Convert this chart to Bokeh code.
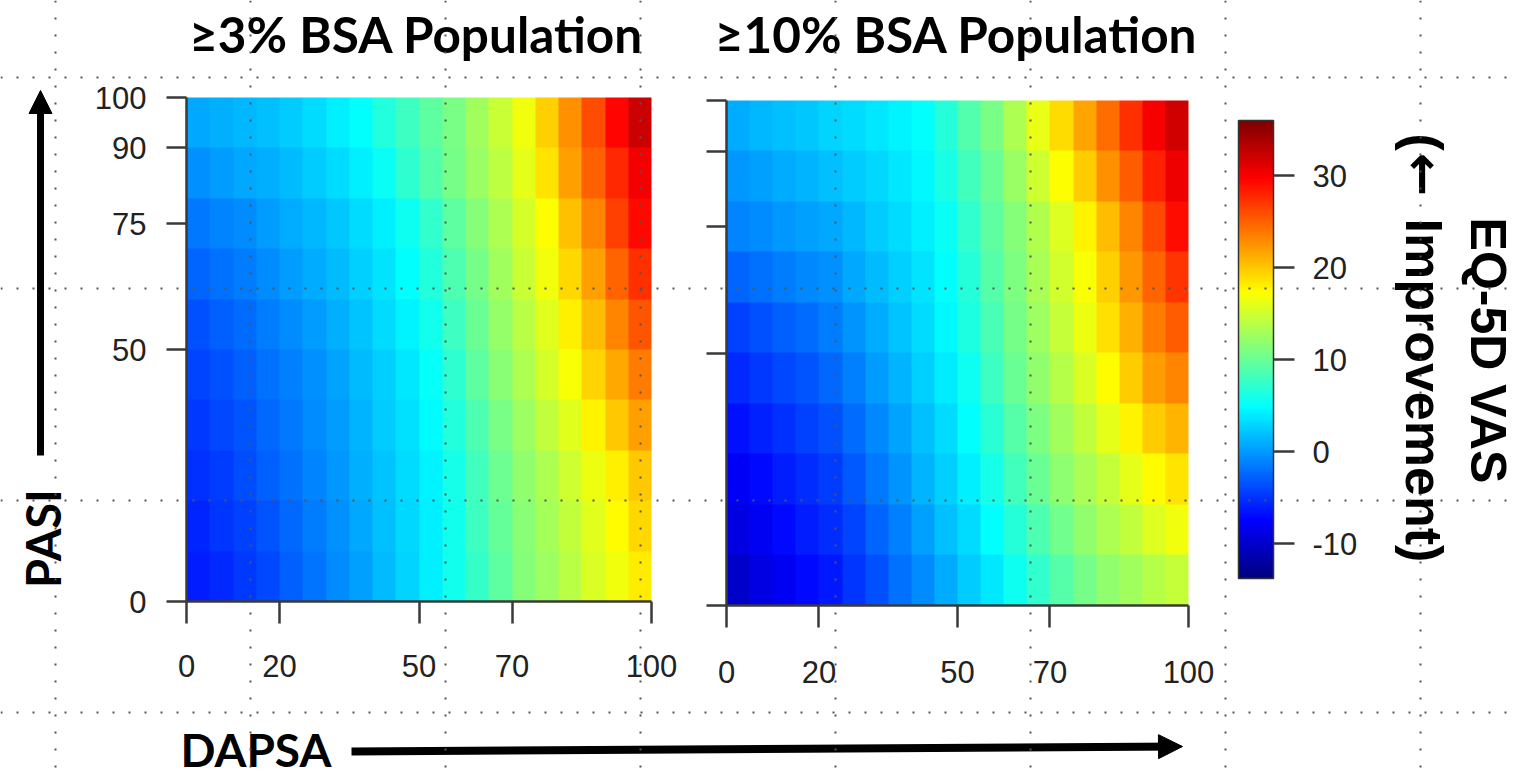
import numpy as np
from bokeh.plotting import figure
from bokeh.models import (Range1d, LinearAxis, FixedTicker, LinearColorMapper, ColorBar,
                          Span, Arrow, NormalHead, Label)
from bokeh.embed import file_html
from bokeh.resources import INLINE

# ---------------- data ----------------
dapsa_centers = [2.5, 7.5, 12.5, 17.5, 22.5, 27.5, 32.5, 37.5, 42.5, 47.5,
                 52.5, 57.5, 62.5, 67.5, 72.5, 77.5, 82.5, 87.5, 92.5, 97.5]
pasi_centers = [5, 15, 25, 35, 45, 55, 65, 75, 85, 95]
# EQ-5D VAS improvement; rows = PASI (bottom -> top), columns = DAPSA
vas_3pct = [
    [-6.2, -5.5, -4.8, -3.9, -2.9, -1.8, -0.7, 0.4, 1.7, 2.9, 4.1, 5.7, 7.5, 9.5, 11.3, 12.6, 13.9, 15.4, 16.7, 18.2],
    [-5.7, -5.0, -4.3, -3.4, -2.4, -1.5, -0.4, 0.7, 1.9, 3.0, 4.2, 5.8, 7.8, 9.8, 11.6, 13.0, 14.4, 15.9, 17.4, 19.1],
    [-5.2, -4.5, -3.8, -2.9, -2.0, -1.1, -0.1, 1.0, 2.1, 3.2, 4.3, 6.0, 8.1, 10.2, 11.9, 13.4, 14.9, 16.4, 18.1, 20.0],
    [-4.7, -4.0, -3.3, -2.5, -1.6, -0.7, 0.2, 1.3, 2.4, 3.5, 4.7, 6.6, 8.7, 10.8, 12.6, 14.3, 15.9, 17.8, 19.9, 21.8],
    [-4.2, -3.5, -2.8, -2.0, -1.2, -0.4, 0.5, 1.6, 2.7, 3.8, 5.1, 7.2, 9.4, 11.5, 13.3, 15.2, 17.0, 19.3, 21.6, 23.7],
    [-3.5, -2.9, -2.2, -1.4, -0.6, 0.1, 1.0, 2.1, 3.2, 4.3, 5.7, 7.9, 10.0, 12.1, 14.0, 15.9, 18.1, 20.6, 23.3, 25.5],
    [-2.6, -2.0, -1.4, -0.7, 0.1, 0.8, 1.7, 2.7, 3.7, 4.9, 6.6, 8.6, 10.7, 12.7, 14.7, 16.6, 19.2, 21.9, 24.9, 27.4],
    [-1.7, -1.1, -0.6, 0.1, 0.8, 1.5, 2.3, 3.3, 4.2, 5.5, 7.4, 9.4, 11.3, 13.3, 15.3, 17.3, 20.3, 23.2, 26.5, 29.2],
    [-0.4, 0.1, 0.6, 1.1, 1.6, 2.4, 3.3, 4.1, 5.4, 7.1, 8.9, 10.6, 12.4, 14.2, 16.0, 18.5, 21.8, 25.0, 27.8, 30.3],
    [0.7, 1.1, 1.5, 1.8, 2.5, 3.3, 4.1, 5.0, 6.5, 7.9, 9.4, 10.8, 12.7, 14.7, 16.7, 19.5, 22.6, 25.9, 29.4, 32.2],
]
vas_10pct = [
    [-10.0, -8.9, -8.0, -7.0, -6.3, -5.0, -3.5, -2.1, -0.6, 0.9, 2.4, 3.9, 5.5, 7.3, 9.0, 10.6, 12.0, 12.8, 13.7, 14.5],
    [-8.9, -8.0, -7.1, -6.2, -5.4, -4.1, -2.6, -1.2, 0.3, 1.8, 3.3, 5.0, 6.8, 8.6, 10.4, 11.9, 13.3, 14.4, 15.6, 16.6],
    [-7.8, -7.0, -6.2, -5.4, -4.6, -3.2, -1.7, -0.3, 1.2, 2.7, 4.2, 6.0, 8.0, 10.0, 11.8, 13.2, 14.6, 16.0, 17.4, 18.6],
    [-6.7, -5.9, -5.1, -4.4, -3.6, -2.2, -0.8, 0.5, 1.9, 3.3, 4.9, 6.9, 9.0, 11.0, 12.8, 14.4, 16.0, 17.9, 19.7, 20.9],
    [-5.6, -4.8, -4.0, -3.3, -2.5, -1.3, 0.1, 1.3, 2.6, 4.0, 5.6, 7.8, 10.0, 11.9, 13.8, 15.5, 17.5, 19.8, 22.0, 23.2],
    [-4.3, -3.6, -2.8, -2.2, -1.5, -0.3, 0.9, 2.0, 3.2, 4.5, 6.3, 8.5, 10.7, 12.6, 14.6, 16.4, 18.7, 21.2, 23.7, 25.3],
    [-2.6, -2.1, -1.5, -0.9, -0.4, 0.6, 1.6, 2.7, 3.7, 4.9, 6.8, 9.0, 11.0, 13.1, 15.1, 17.1, 19.6, 22.3, 24.9, 27.2],
    [-1.0, -0.6, -0.1, 0.3, 0.7, 1.5, 2.4, 3.3, 4.2, 5.3, 7.4, 9.4, 11.4, 13.5, 15.6, 17.8, 20.6, 23.3, 26.1, 29.0],
    [-0.1, 0.4, 0.9, 1.3, 1.8, 2.4, 3.1, 3.9, 4.6, 6.1, 8.1, 10.1, 12.4, 14.9, 17.3, 19.8, 22.6, 25.3, 28.1, 30.5],
    [0.9, 1.4, 1.9, 2.3, 2.8, 3.3, 3.8, 4.4, 4.9, 6.8, 8.8, 10.8, 13.4, 16.2, 19.0, 21.7, 24.5, 27.3, 30.0, 32.0],
]
dapsa_ticks = [0, 20, 50, 70, 100]
pasi_ticks = [0, 50, 75, 90, 100]
cbar_ticks = [-10, 0, 10, 20, 30]
vas_low, vas_high = -13.8, 36.0
titles = ["\u22653% BSA Population", "\u226510% BSA Population"]
x_label = "DAPSA"
y_label = "PASI"
cbar_label_1 = "EQ-5D VAS"
cbar_label_2 = ["(", "\u2190", "Improvement)"]

# ---------------- palette (R jet.colors ramp) ----------------
stops = ["#00007F", "#0000FF", "#007FFF", "#00FFFF", "#7FFF7F",
         "#FFFF00", "#FF7F00", "#FF0000", "#7F0000"]
rgb = np.array([[int(s[i:i + 2], 16) for i in (1, 3, 5)] for s in stops], float)
pos = np.linspace(0, 1, len(stops))
tt = np.linspace(0, 1, 256)
jet = ["#%02x%02x%02x" % tuple(int(round(np.interp(t, pos, rgb[:, k]))) for k in range(3)) for t in tt]
mapper = LinearColorMapper(palette=jet, low=vas_low, high=vas_high)

# ---------------- page geometry ----------------
W, H = 1515, 780
PX0, PX1, PY0, PY1 = 0, W, 0, H   # page pixel extents of the frame

p = figure(width=W, height=H, x_range=Range1d(PX0, PX1), y_range=Range1d(PY1, PY0),
           x_axis_type=None, y_axis_type=None, toolbar_location=None,
           output_backend="svg", min_border=0, outline_line_color=None,
           background_fill_color="white", border_fill_color="white")


def xrange_for(lo, hi, px_lo, px_hi):
    s = (px_hi - px_lo) / (hi - lo)
    return Range1d(lo - (px_lo - PX0) / s, hi + (PX1 - px_hi) / s)


def yrange_for(lo, hi, py_bot, py_top):
    s = (py_bot - py_top) / (hi - lo)
    return Range1d(lo - (PY1 - py_bot) / s, hi + (py_top - PY0) / s)


panels = [
    dict(name="L", x0=186, x1=651, ytop=97, ybot=601, data=vas_3pct, title_x=416, ylabels=True, xstand=31),
    dict(name="R", x0=726, x1=1188, ytop=100, ybot=605, data=vas_10pct, title_x=956, ylabels=False, xstand=33),
]

p.extra_x_ranges = {"x" + pn["name"]: xrange_for(0, 100, pn["x0"], pn["x1"]) for pn in panels}
p.extra_y_ranges = {"y" + pn["name"]: yrange_for(0, 100, pn["ybot"], pn["ytop"]) for pn in panels}

AX_COL = "#3a3a3a"
TICK_FONT = "Liberation Sans"
TICK_SIZE = "31px"

dstep = dapsa_centers[1] - dapsa_centers[0]
pstep = pasi_centers[1] - pasi_centers[0]

for pn in panels:
    xn, yn = "x" + pn["name"], "y" + pn["name"]
    p.image(image=[np.array(pn["data"], dtype=float)],
            x=dapsa_centers[0] - dstep / 2, y=pasi_centers[0] - pstep / 2,
            dw=dstep * len(dapsa_centers), dh=pstep * len(pasi_centers),
            color_mapper=mapper, x_range_name=xn, y_range_name=yn)

    xa = LinearAxis(x_range_name=xn, y_range_name=yn, fixed_location=0, bounds=(0, 100),
                    ticker=FixedTicker(ticks=dapsa_ticks))
    ya = LinearAxis(x_range_name=xn, y_range_name=yn, fixed_location=0, bounds=(0, 100),
                    ticker=FixedTicker(ticks=pasi_ticks))
    for ax in (xa, ya):
        ax.axis_line_color = AX_COL
        ax.axis_line_width = 2.5
        ax.major_tick_line_color = AX_COL
        ax.major_tick_line_width = 2.5
        ax.major_tick_in = 0
        ax.minor_tick_line_color = None
        ax.major_label_text_font = TICK_FONT
        ax.major_label_text_font_size = TICK_SIZE
        ax.major_label_text_color = "#222222"
    xa.major_tick_out = 22
    xa.major_label_standoff = pn["xstand"]
    ya.major_tick_out = 20
    ya.major_label_standoff = 20
    if not pn["ylabels"]:
        ya.major_label_overrides = {t: "" for t in pasi_ticks}
    p.add_layout(xa, "below")
    p.add_layout(ya, "left")

# colour bar
cb = ColorBar(color_mapper=mapper, ticker=FixedTicker(ticks=cbar_ticks),
              location=(1238 - PX0, PY1 - 578), width=35, height=458, padding=0,
              major_tick_out=21, major_tick_in=0, major_tick_line_color=AX_COL,
              major_tick_line_width=2.5, minor_tick_line_color=None,
              label_standoff=18, major_label_text_font=TICK_FONT,
              major_label_text_font_size=TICK_SIZE, major_label_text_color="#222222",
              major_label_overrides={t: str(t) for t in cbar_ticks},
              bar_line_color="#333333", bar_line_width=1.5,
              background_fill_color=None, border_line_color=None)
p.add_layout(cb, "center")

# titles and axis labels
TF = "Lato"
for pn, t in zip(panels, titles):
    p.add_layout(Label(x=pn["title_x"], y=33, text=t, text_align="center",
                       text_baseline="middle", text_font=TF, text_font_style="bold",
                       text_font_size="49.5px", text_color="black"))

p.add_layout(Label(x=180, y=749, text=x_label, text_align="left", text_baseline="middle",
                   text_font=TF, text_font_style="bold", text_font_size="46px", text_color="black"))
p.add_layout(Label(x=42, y=538, text=y_label, text_align="center", text_baseline="middle",
                   angle=np.pi / 2, text_font=TF, text_font_style="bold",
                   text_font_size="47px", text_color="black"))
p.add_layout(Label(x=1487, y=350, text=cbar_label_1, text_align="center", text_baseline="middle",
                   angle=-np.pi / 2, text_font="Liberation Sans", text_font_style="bold",
                   text_font_size="50px", text_color="black"))
for txt, ys, fnt in zip(cbar_label_2, [133, 152, 218],
                        ["Liberation Sans", "DejaVu Sans", "Liberation Sans"]):
    p.add_layout(Label(x=1423, y=ys, text=txt, text_align="left", text_baseline="middle",
                       angle=-np.pi / 2, text_font=fnt, text_font_style="bold",
                       text_font_size="52px", text_color="black"))

# arrows
p.add_layout(Arrow(x_start=40, y_start=455, x_end=40, y_end=90, line_width=7, line_color="black",
                   end=NormalHead(size=23, fill_color="black", line_color="black", line_width=1)))
p.add_layout(Arrow(x_start=351, y_start=751, x_end=1182, y_end=746, line_width=8, line_color="black",
                   end=NormalHead(size=24, fill_color="black", line_color="black", line_width=1)))

# dotted overlay grid
for xv in [55, 250, 445, 640, 835, 1030, 1225, 1420]:
    p.add_layout(Span(location=xv, dimension="height", line_color="#555555",
                      line_width=2, line_dash="2 15"))
for yv in [77, 288, 500, 712]:
    p.add_layout(Span(location=yv, dimension="width", line_color="#555555",
                      line_width=2, line_dash="2 14"))

open("out.html", "w").write(file_html(p, INLINE))
